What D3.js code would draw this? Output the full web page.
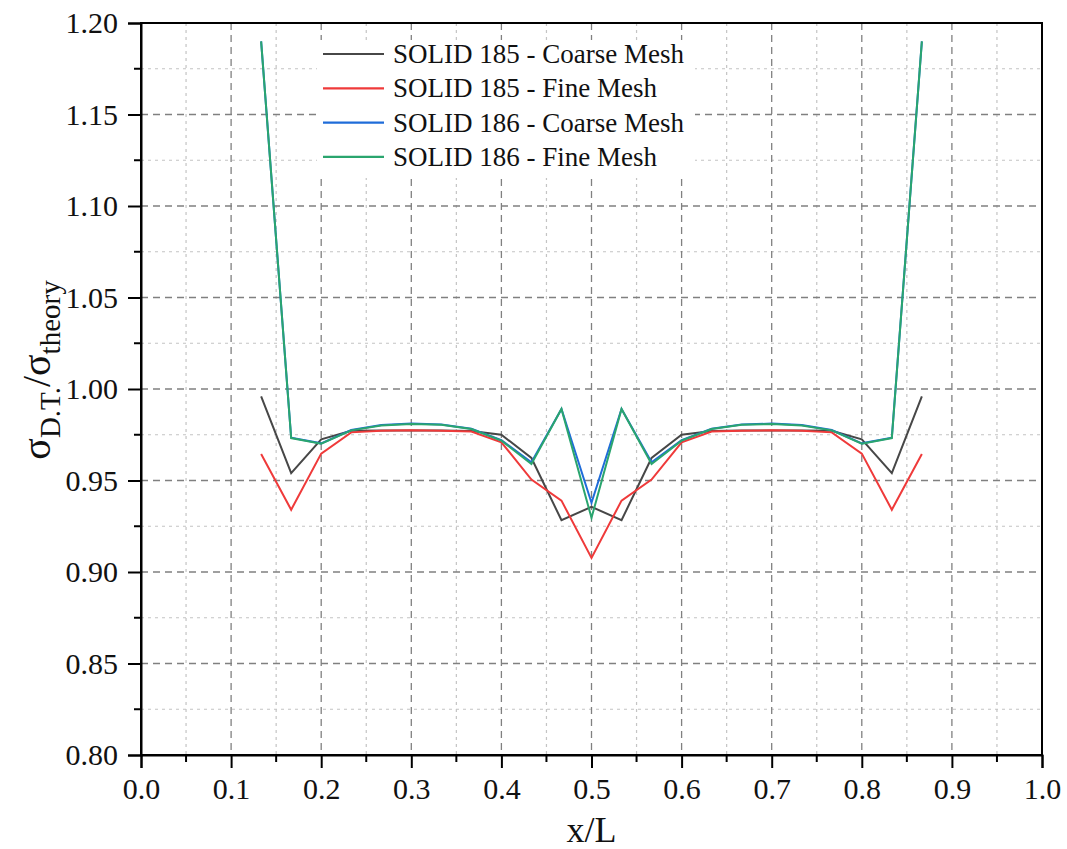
<!DOCTYPE html>
<html>
<head>
<meta charset="utf-8">
<script src="https://cdn.jsdelivr.net/npm/d3@7"></script>
<style>
  html, body { margin: 0; padding: 0; background: #fff; }
  svg { display: block; }
  svg text { font-family: "Liberation Serif", "Times New Roman", "DejaVu Serif", serif !important; }
</style>
</head>
<body>
<svg id="chart" width="1067" height="849"></svg>
<script>
// Position along the member (x/L), node stations at k/30
const xPositions = [4,5,6,7,8,9,10,11,12,13,14,15,16,17,18,19,20,21,22,23,24,25,26].map(k => k / 30);

// Stress ratio sigma_D.T. / sigma_theory for each element type and mesh
const solid185Coarse = [0.996, 0.954, 0.9725, 0.9772, 0.9773, 0.9773, 0.9773, 0.9770, 0.975, 0.9623, 0.9283, 0.9356,
                        0.9283, 0.9623, 0.975, 0.9770, 0.9773, 0.9773, 0.9773, 0.9772, 0.9725, 0.954, 0.996];
const solid185Fine   = [0.9645, 0.934, 0.9647, 0.9763, 0.9772, 0.9774, 0.9772, 0.9768, 0.9709, 0.9505, 0.939, 0.9077,
                        0.939, 0.9505, 0.9709, 0.9768, 0.9772, 0.9774, 0.9772, 0.9763, 0.9647, 0.934, 0.9645];
const solid186Coarse = [1.19, 0.9734, 0.9703, 0.9776, 0.9803, 0.9811, 0.9806, 0.9783, 0.9720, 0.9600, 0.9891, 0.9378,
                        0.9891, 0.9600, 0.9720, 0.9783, 0.9806, 0.9811, 0.9803, 0.9776, 0.9703, 0.9734, 1.19];
const solid186Fine   = [1.19, 0.9732, 0.9701, 0.9774, 0.9800, 0.9809, 0.9804, 0.9781, 0.9718, 0.9590, 0.9891, 0.9296,
                        0.9891, 0.9590, 0.9718, 0.9781, 0.9804, 0.9809, 0.9800, 0.9774, 0.9701, 0.9732, 1.19];

const seriesNames  = ["SOLID 185 - Coarse Mesh", "SOLID 185 - Fine Mesh", "SOLID 186 - Coarse Mesh", "SOLID 186 - Fine Mesh"];
const seriesValues = [solid185Coarse, solid185Fine, solid186Coarse, solid186Fine];
const seriesColors = ["#474747", "#ef3a3a", "#1f6cd9", "#2aa56e"];

const xTickValues = [0, 0.1, 0.2, 0.3, 0.4, 0.5, 0.6, 0.7, 0.8, 0.9, 1.0];
const yTickValues = [0.80, 0.85, 0.90, 0.95, 1.00, 1.05, 1.10, 1.15, 1.20];
const xMinorValues = [0.05, 0.15, 0.25, 0.35, 0.45, 0.55, 0.65, 0.75, 0.85, 0.95];
const yMinorValues = [0.825, 0.875, 0.925, 0.975, 1.025, 1.075, 1.125, 1.175];

const margin = { left: 141, top: 23, right: 25, bottom: 94 };
const W = 1067, H = 849;
const plotW = W - margin.left - margin.right;
const plotH = H - margin.top - margin.bottom;

const svg = d3.select("#chart");
const g = svg.append("g").attr("transform", `translate(${margin.left},${margin.top})`);

const x = d3.scaleLinear().domain([0, 1]).range([0, plotW]);
const y = d3.scaleLinear().domain([0.8, 1.2]).range([plotH, 0]);

// Grid: minor dotted, major dashed
const grid = g.append("g").attr("class", "grid");
grid.selectAll("line.xminor").data(xMinorValues).join("line")
  .attr("x1", d => x(d)).attr("x2", d => x(d)).attr("y1", 0).attr("y2", plotH)
  .attr("stroke", "#c4c4c4").attr("stroke-width", 1.2).attr("stroke-dasharray", "3,4");
grid.selectAll("line.yminor").data(yMinorValues).join("line")
  .attr("y1", d => y(d)).attr("y2", d => y(d)).attr("x1", 0).attr("x2", plotW)
  .attr("stroke", "#c4c4c4").attr("stroke-width", 1.2).attr("stroke-dasharray", "3,4");
grid.selectAll("line.xmajor").data(xTickValues.slice(1, -1)).join("line")
  .attr("x1", d => x(d)).attr("x2", d => x(d)).attr("y1", 0).attr("y2", plotH)
  .attr("stroke", "#808080").attr("stroke-width", 1.3).attr("stroke-dasharray", "7,5");
grid.selectAll("line.ymajor").data(yTickValues.slice(1, -1)).join("line")
  .attr("y1", d => y(d)).attr("y2", d => y(d)).attr("x1", 0).attr("x2", plotW)
  .attr("stroke", "#808080").attr("stroke-width", 1.3).attr("stroke-dasharray", "7,5");

// Series lines
const line = d3.line().x((d, i) => x(xPositions[i])).y(d => y(d));
g.append("g").selectAll("path").data(seriesValues).join("path")
  .attr("d", d => line(d))
  .attr("fill", "none")
  .attr("stroke", (d, i) => seriesColors[i])
  .attr("stroke-width", 2)
  .attr("stroke-linejoin", "miter");

// Legend with white backing
const legendX = 182, legendY = 31, rowH = 34.3;
const legend = g.append("g").attr("transform", `translate(${legendX},${legendY})`);
legend.append("rect").attr("x", -6).attr("y", -14).attr("width", 378).attr("height", 138).attr("fill", "#fff");
const rows = legend.selectAll("g").data(seriesNames).join("g")
  .attr("transform", (d, i) => `translate(0,${i * rowH})`);
rows.append("line").attr("x1", 0).attr("x2", 61).attr("y1", 0).attr("y2", 0)
  .attr("stroke", (d, i) => seriesColors[i]).attr("stroke-width", 2.2);
rows.append("text").attr("x", 70).attr("y", 0).attr("dy", "0.34em")
  .attr("font-size", 27).attr("fill", "#111").text(d => d);

// Frame
g.append("rect").attr("width", plotW).attr("height", plotH)
  .attr("fill", "none").attr("stroke", "#000").attr("stroke-width", 2);

// Axes
const xAxis = g.append("g").attr("transform", `translate(0,${plotH})`)
  .call(d3.axisBottom(x).tickValues(xTickValues).tickFormat(d3.format(".1f")).tickSize(13).tickPadding(10));
const yAxis = g.append("g")
  .call(d3.axisLeft(y).tickValues(yTickValues).tickFormat(d3.format(".2f")).tickSize(13).tickPadding(10));
[xAxis, yAxis].forEach(a => {
  a.attr("font-family", null).attr("font-size", null);
  a.select(".domain").attr("stroke", "#000").attr("stroke-width", 2);
  a.selectAll(".tick line").attr("stroke", "#000").attr("stroke-width", 2);
  a.selectAll(".tick text").style("font-size", "30px").attr("fill", "#111");
});
// Minor ticks
g.append("g").selectAll("line").data(xMinorValues).join("line")
  .attr("x1", d => x(d)).attr("x2", d => x(d)).attr("y1", plotH).attr("y2", plotH + 7)
  .attr("stroke", "#000").attr("stroke-width", 2);
g.append("g").selectAll("line").data(yMinorValues).join("line")
  .attr("y1", d => y(d)).attr("y2", d => y(d)).attr("x1", 0).attr("x2", -7)
  .attr("stroke", "#000").attr("stroke-width", 2);

// Axis titles
svg.append("text").attr("x", margin.left + plotW / 2).attr("y", 842)
  .attr("text-anchor", "middle").attr("font-size", 36).attr("fill", "#111").text("x/L");

const yTitle = svg.append("text")
  .attr("transform", "translate(50,370) rotate(-90)")
  .attr("text-anchor", "middle").attr("font-size", 40).attr("fill", "#111");
yTitle.append("tspan").text("σ");
yTitle.append("tspan").attr("font-size", 29).attr("dy", 10).text("D.T.");
yTitle.append("tspan").attr("dy", -10).text("/σ");
yTitle.append("tspan").attr("font-size", 29).attr("dy", 10).text("theory");
</script>
</body>
</html>
